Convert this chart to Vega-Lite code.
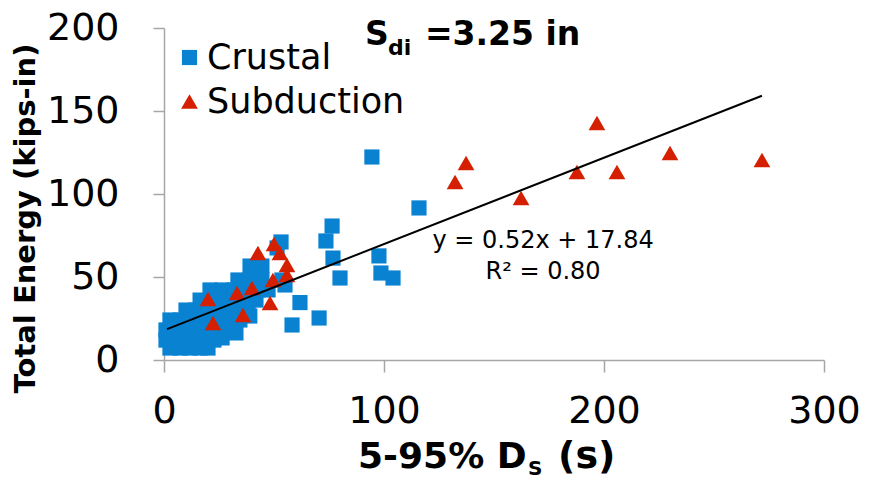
{
  "$schema": "https://vega.github.io/schema/vega-lite/v6.json",
  "width": 660,
  "height": 332,
  "autosize": "none",
  "padding": {"left": 164, "top": 28, "right": 45, "bottom": 119},
  "background": "white",
  "config": {
    "view": {"stroke": null},
    "font": "DejaVu Sans",
    "axis": {"grid": false, "domainColor": "#a6a6a6", "tickColor": "#a6a6a6", "domainWidth": 1.5, "tickWidth": 1.5, "labelColor": "black", "labelFont": "DejaVu Sans", "titleColor": "black", "titleFont": "DejaVu Sans"},
    "legend": {"labelFont": "DejaVu Sans", "labelColor": "black"}
  },
  "datasets": {
    "pts": [
      {"x": 2.7, "y": 7.2, "type": "Crustal"},
      {"x": 7.3, "y": 7.2, "type": "Crustal"},
      {"x": 11.8, "y": 7.2, "type": "Crustal"},
      {"x": 16.4, "y": 7.2, "type": "Crustal"},
      {"x": 20.0, "y": 7.2, "type": "Crustal"},
      {"x": 0.9, "y": 12.0, "type": "Crustal"},
      {"x": 5.5, "y": 12.0, "type": "Crustal"},
      {"x": 10.0, "y": 12.0, "type": "Crustal"},
      {"x": 14.5, "y": 12.0, "type": "Crustal"},
      {"x": 19.1, "y": 12.0, "type": "Crustal"},
      {"x": 22.7, "y": 12.0, "type": "Crustal"},
      {"x": 26.4, "y": 13.3, "type": "Crustal"},
      {"x": 32.7, "y": 16.3, "type": "Crustal"},
      {"x": 0.9, "y": 18.1, "type": "Crustal"},
      {"x": 4.5, "y": 18.1, "type": "Crustal"},
      {"x": 9.1, "y": 18.1, "type": "Crustal"},
      {"x": 13.6, "y": 18.1, "type": "Crustal"},
      {"x": 18.2, "y": 18.1, "type": "Crustal"},
      {"x": 22.7, "y": 18.1, "type": "Crustal"},
      {"x": 26.4, "y": 18.1, "type": "Crustal"},
      {"x": 2.7, "y": 24.1, "type": "Crustal"},
      {"x": 7.3, "y": 24.1, "type": "Crustal"},
      {"x": 11.8, "y": 24.1, "type": "Crustal"},
      {"x": 16.4, "y": 24.1, "type": "Crustal"},
      {"x": 20.9, "y": 24.1, "type": "Crustal"},
      {"x": 26.4, "y": 24.1, "type": "Crustal"},
      {"x": 30.9, "y": 24.1, "type": "Crustal"},
      {"x": 34.5, "y": 24.1, "type": "Crustal"},
      {"x": 39.0, "y": 26.5, "type": "Crustal"},
      {"x": 10.0, "y": 30.1, "type": "Crustal"},
      {"x": 14.5, "y": 30.1, "type": "Crustal"},
      {"x": 20.0, "y": 30.1, "type": "Crustal"},
      {"x": 24.5, "y": 30.1, "type": "Crustal"},
      {"x": 29.1, "y": 30.1, "type": "Crustal"},
      {"x": 33.6, "y": 30.1, "type": "Crustal"},
      {"x": 38.2, "y": 30.1, "type": "Crustal"},
      {"x": 16.4, "y": 36.1, "type": "Crustal"},
      {"x": 21.8, "y": 36.1, "type": "Crustal"},
      {"x": 27.3, "y": 36.1, "type": "Crustal"},
      {"x": 32.7, "y": 36.1, "type": "Crustal"},
      {"x": 37.3, "y": 36.1, "type": "Crustal"},
      {"x": 41.8, "y": 36.1, "type": "Crustal"},
      {"x": 20.9, "y": 42.2, "type": "Crustal"},
      {"x": 26.4, "y": 42.2, "type": "Crustal"},
      {"x": 31.8, "y": 42.2, "type": "Crustal"},
      {"x": 37.3, "y": 42.2, "type": "Crustal"},
      {"x": 42.7, "y": 42.2, "type": "Crustal"},
      {"x": 47.3, "y": 42.2, "type": "Crustal"},
      {"x": 33.6, "y": 48.2, "type": "Crustal"},
      {"x": 39.1, "y": 48.2, "type": "Crustal"},
      {"x": 44.5, "y": 48.2, "type": "Crustal"},
      {"x": 53.6, "y": 48.2, "type": "Crustal"},
      {"x": 55.0, "y": 45.2, "type": "Crustal"},
      {"x": 39.1, "y": 56.6, "type": "Crustal"},
      {"x": 44.5, "y": 56.6, "type": "Crustal"},
      {"x": 51.4, "y": 67.5, "type": "Crustal"},
      {"x": 53.2, "y": 71.1, "type": "Crustal"},
      {"x": 94.5, "y": 122.3, "type": "Crustal"},
      {"x": 115.9, "y": 91.6, "type": "Crustal"},
      {"x": 76.4, "y": 80.7, "type": "Crustal"},
      {"x": 73.6, "y": 71.7, "type": "Crustal"},
      {"x": 76.8, "y": 61.4, "type": "Crustal"},
      {"x": 80.0, "y": 49.4, "type": "Crustal"},
      {"x": 97.7, "y": 62.7, "type": "Crustal"},
      {"x": 98.6, "y": 52.4, "type": "Crustal"},
      {"x": 104.1, "y": 49.4, "type": "Crustal"},
      {"x": 61.8, "y": 34.6, "type": "Crustal"},
      {"x": 70.5, "y": 25.3, "type": "Crustal"},
      {"x": 58.2, "y": 21.1, "type": "Crustal"},
      {"x": 271.8, "y": 120.5, "type": "Subduction"},
      {"x": 230.0, "y": 124.7, "type": "Subduction"},
      {"x": 196.8, "y": 142.8, "type": "Subduction"},
      {"x": 205.9, "y": 113.3, "type": "Subduction"},
      {"x": 187.7, "y": 113.3, "type": "Subduction"},
      {"x": 162.3, "y": 97.6, "type": "Subduction"},
      {"x": 137.3, "y": 118.7, "type": "Subduction"},
      {"x": 132.3, "y": 107.2, "type": "Subduction"},
      {"x": 50.0, "y": 69.9, "type": "Subduction"},
      {"x": 42.7, "y": 64.5, "type": "Subduction"},
      {"x": 52.7, "y": 64.5, "type": "Subduction"},
      {"x": 55.9, "y": 57.2, "type": "Subduction"},
      {"x": 55.9, "y": 51.2, "type": "Subduction"},
      {"x": 49.5, "y": 48.2, "type": "Subduction"},
      {"x": 40.0, "y": 43.4, "type": "Subduction"},
      {"x": 33.2, "y": 40.4, "type": "Subduction"},
      {"x": 20.0, "y": 36.7, "type": "Subduction"},
      {"x": 48.2, "y": 34.3, "type": "Subduction"},
      {"x": 35.9, "y": 27.1, "type": "Subduction"},
      {"x": 22.3, "y": 22.3, "type": "Subduction"}
    ],
    "trend": [
      {"x": 1.4, "y": 18.57},
      {"x": 271.8, "y": 159.18}
    ]
  },
  "encoding": {
    "x": {"field": "x", "type": "quantitative", "scale": {"domain": [0, 300], "nice": false, "zero": false},
      "axis": {"title": null, "values": [0, 100, 200, 300], "labelFontSize": 38, "tickSize": 12, "labelPadding": 20, "labelFlush": false, "labelOverlap": false}},
    "y": {"field": "y", "type": "quantitative", "scale": {"domain": [0, 200], "nice": false, "zero": false},
      "axis": {"title": "Total Energy (kips-in)", "values": [0, 50, 100, 150, 200], "labelFontSize": 38, "tickSize": 11, "labelPadding": 34,
        "titleFontSize": 29, "titleFontWeight": "bold", "titleX": -130, "titleY": 190, "titleAngle": -90, "titleBaseline": "alphabetic", "titleAlign": "center", "labelOverlap": false}}
  },
  "layer": [
    {
      "data": {"name": "pts"},
      "mark": {"type": "point", "filled": true, "opacity": 1},
      "encoding": {
        "color": {"field": "type", "type": "nominal", "scale": {"domain": ["Crustal", "Subduction"], "range": ["#0a82d2", "#d42000"]},
          "legend": {"title": null, "orient": "none", "legendX": 8, "legendY": 12, "labelFontSize": 35, "labelLimit": 0, "symbolSize": 200, "rowPadding": 8, "padding": 0, "labelOffset": 0, "symbolOpacity": 1, "symbolStrokeWidth": 0}},
        "shape": {"field": "type", "type": "nominal", "scale": {"domain": ["Crustal", "Subduction"], "range": ["square", "triangle-up"]}},
        "size": {"field": "type", "type": "nominal", "scale": {"domain": ["Crustal", "Subduction"], "range": [230, 280]}, "legend": null}
      }
    },
    {
      "data": {"name": "trend"},
      "mark": {"type": "line", "color": "black", "strokeWidth": 2},
      "encoding": {}
    },
    {
      "data": {"values": [{"x": 91.4, "y": 189.8, "t": "S"}, {"x": 118.6, "y": 189.8, "t": "=3.25 in"}]},
      "mark": {"type": "text", "fontSize": 33, "fontWeight": "bold", "align": "left", "baseline": "alphabetic", "color": "black"},
      "encoding": {"text": {"field": "t"}}
    },
    {
      "data": {"values": [{"x": 101.8, "y": 183.7, "t": "di"}]},
      "mark": {"type": "text", "fontSize": 22, "fontWeight": "bold", "align": "left", "baseline": "alphabetic", "color": "black"},
      "encoding": {"text": {"field": "t"}}
    },
    {
      "data": {"values": [{"x": 172.3, "y": 67.5, "t": "y = 0.52x + 17.84"}, {"x": 172.3, "y": 48.8, "t": "R² = 0.80"}]},
      "mark": {"type": "text", "fontSize": 24, "align": "center", "baseline": "alphabetic", "color": "black"},
      "encoding": {"text": {"field": "t"}}
    },
    {
      "data": {"values": [{"x": 88.2, "y": -65.1, "t": "5-95% D"}]},
      "mark": {"type": "text", "fontSize": 36, "fontWeight": "bold", "align": "left", "baseline": "alphabetic", "color": "black"},
      "encoding": {"text": {"field": "t"}}
    },
    {
      "data": {"values": [{"x": 179.1, "y": -65.1, "t": "(s)"}]},
      "mark": {"type": "text", "fontSize": 38, "fontWeight": "bold", "align": "left", "baseline": "alphabetic", "color": "black"},
      "encoding": {"text": {"field": "t"}}
    },
    {
      "data": {"values": [{"x": 165.5, "y": -69.3, "t": "S"}]},
      "mark": {"type": "text", "fontSize": 20, "fontWeight": "bold", "align": "left", "baseline": "alphabetic", "color": "black"},
      "encoding": {"text": {"field": "t"}}
    }
  ]
}
